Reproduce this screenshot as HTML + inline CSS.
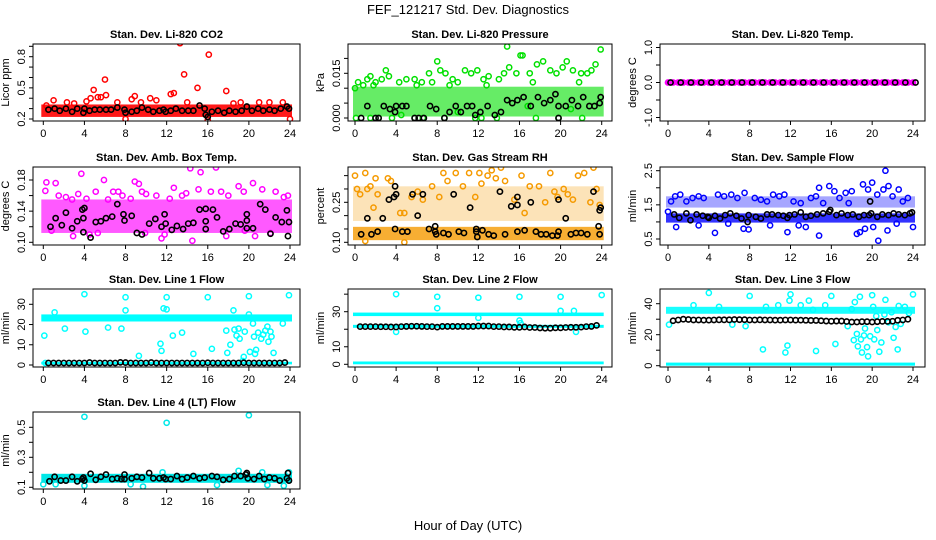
<!DOCTYPE html>
<html><head><meta charset="utf-8"><style>
html,body{margin:0;padding:0;background:#fff;}
svg{display:block;font-family:"Liberation Sans",Arial,sans-serif;}
</style></head><body>
<svg id="chart" width="936" height="540" viewBox="0 0 936 540" xmlns="http://www.w3.org/2000/svg">
<text x="468" y="14" text-anchor="middle" font-size="13">FEF_121217  Std. Dev. Diagnostics</text>
<text x="468" y="530" text-anchor="middle" font-size="13">Hour of Day (UTC)</text>
</svg>
<script>
// ---- data (hours, values) ----
const xTicks = [0,4,8,12,16,20,24];

const co2Band = [0.22,0.34];
const co2Pts = [[1,0.38],[2.3,0.36],[4.2,0.37],[4.6,0.40],[4.9,0.48],[5.3,0.41],[5.6,0.41],[6,0.58],[6.1,0.43],[7.2,0.36],[8,0.20],[8.6,0.39],[8.9,0.42],[10.4,0.40],[11,0.38],[12.4,0.44],[12.7,0.45],[13.3,0.93],[13.7,0.63],[15,0.50],[16.1,0.82],[17.8,0.47],[19.2,0.36],[21,0.36],[23.3,0.36],[24,0.20],[16,0.19],[0.3,0.33],[3,0.35],[9.5,0.36],[14,0.36],[18.5,0.35],[22,0.36]];
const co2Black = [[0.5,0.29],[1.1,0.3],[1.6,0.28],[2.2,0.3],[2.8,0.27],[3.3,0.3],[3.9,0.26],[4,0.3],[4.5,0.28],[5,0.29],[5.5,0.29],[6.1,0.29],[6.6,0.29],[7.2,0.31],[7.9,0.29],[8,0.26],[8.6,0.27],[9.1,0.28],[9.6,0.31],[10.2,0.29],[10.7,0.27],[11.3,0.28],[11.7,0.29],[11.9,0.27],[12.4,0.28],[12.9,0.3],[13.5,0.28],[14.1,0.28],[14.6,0.28],[15.2,0.33],[15.7,0.3],[15.8,0.24],[16,0.22],[16.4,0.27],[17,0.28],[17.6,0.26],[18.1,0.28],[18.7,0.27],[19.3,0.28],[19.8,0.32],[20.3,0.28],[20.9,0.3],[21.4,0.28],[22,0.29],[22.5,0.28],[23.1,0.3],[23.7,0.32],[23.9,0.3]];

const presBand = [0.0005,0.0105];
const presPts = [[0,0.010],[0.3,0.012],[0.8,0.011],[1.2,0.013],[1.5,0.014],[2,0.012],[2.6,0.013],[3,0.016],[3.3,0.014],[4.3,0.012],[5,0.013],[5.8,0.013],[6.5,0.012],[7.2,0.015],[7.5,0.012],[8,0.019],[8.3,0.016],[8.8,0.015],[9.5,0.013],[10,0.012],[10.7,0.016],[11.3,0.015],[11.9,0.016],[12.5,0.013],[13,0.014],[14,0.013],[14.5,0.015],[14.8,0.024],[15,0.017],[15.7,0.015],[16.1,0.021],[16.3,0.021],[17,0.015],[17.7,0.018],[18.3,0.019],[19,0.016],[19.6,0.015],[20.2,0.017],[20.6,0.019],[21.2,0.016],[22,0.015],[22.6,0.015],[23,0.016],[23.4,0.018],[23.9,0.023],[0.1,0],[1.5,0],[2.3,0],[3.6,0],[5.8,0],[6.6,0],[8.7,0],[11.7,0],[12.3,0],[13.8,0],[17.6,0],[19.8,0],[22.1,0],[4.5,0.001],[10,0.002],[16.8,0.004],[21,0.003],[1.8,0.011],[6,0.011],[9.2,0.011],[12.8,0.011],[17.3,0.012],[21.8,0.012]];
const presBlack = [[0.6,0],[1.2,0.004],[2,0],[2.3,0],[2.8,0.004],[3.4,0.003],[3.9,0.002],[4,0.004],[4.6,0.004],[5,0.004],[5.8,0],[6.2,0],[6.7,0],[7.3,0.004],[7.9,0.003],[8.7,0],[9.2,0.002],[9.8,0.004],[10.3,0.002],[10.9,0.004],[11.4,0.004],[11.7,0.001],[12.2,0.002],[12.9,0.004],[13.6,0.001],[14.2,0.002],[14.8,0.006],[15.3,0.005],[15.8,0.006],[16.4,0.007],[17.1,0.004],[17.8,0.007],[18.4,0.005],[19,0.006],[19.5,0.008],[19.8,0],[19.8,0.004],[20.5,0.004],[21.1,0.006],[21.7,0.004],[22.2,0.007],[22.8,0.004],[23.3,0.004],[23.8,0.005],[23.9,0.007]];

const tempVals = [0,0,0,0,0,0,0,0,0,0,0,0,0,0,0,0,0,0,0,0,0,0,0,0,0,0,0,0,0,0,0,0,0,0,0,0,0,0,0,0,0,0,0,0,0,0,0,0,0];

const ambBand = [0.112,0.155];
const ambPts = [[0.2,0.166],[0.3,0.177],[1.2,0.176],[1.5,0.16],[2.2,0.158],[2.8,0.155],[3.4,0.162],[3.7,0.188],[4.2,0.156],[4.5,0.11],[5.1,0.165],[5.9,0.18],[6.3,0.155],[6.8,0.165],[7.3,0.165],[7.7,0.16],[8.5,0.156],[8.9,0.178],[9.3,0.175],[9.6,0.165],[10,0.162],[11,0.16],[11.5,0.105],[12.3,0.156],[12.7,0.17],[13.5,0.16],[13.9,0.163],[14.3,0.195],[14.5,0.102],[15.1,0.168],[15.3,0.19],[16.3,0.165],[16.8,0.196],[17.3,0.165],[18,0.16],[19,0.172],[19.5,0.165],[20.4,0.176],[20.6,0.108],[21.3,0.168],[22.1,0.112],[22.6,0.165],[23.4,0.158],[23.8,0.16],[0.8,0.115],[2.9,0.108],[5.3,0.112],[9.9,0.112],[11.8,0.11],[17.8,0.108],[19.6,0.115]];
const ambBlack = [[0.7,0.12],[1.2,0.131],[1.8,0.122],[2.2,0.138],[2.8,0.118],[3.3,0.127],[3.8,0.142],[3.9,0.131],[4,0.144],[3.9,0.113],[4.6,0.106],[5.1,0.126],[5.6,0.127],[6.1,0.131],[6.7,0.133],[7.2,0.149],[7.8,0.136],[7.9,0.128],[8.6,0.134],[9.1,0.112],[9.6,0.11],[10.3,0.124],[10.9,0.13],[11.5,0.12],[11.8,0.136],[11.9,0.124],[12.5,0.116],[13,0.121],[13.6,0.117],[14.1,0.124],[14.6,0.125],[15.2,0.142],[15.8,0.143],[15.8,0.127],[15.8,0.117],[16.5,0.142],[16.9,0.132],[17.5,0.114],[18.1,0.117],[18.7,0.124],[19.2,0.123],[19.8,0.136],[19.8,0.128],[19.8,0.118],[20.4,0.118],[21.1,0.149],[21.6,0.142],[22.1,0.111],[22.6,0.132],[23.2,0.126],[23.7,0.141],[23.8,0.108],[23.9,0.126]];

const rhBand = [0.108,0.158];
const rhUpperBand = [0.18,0.31];
const rhPts = [[0,0.35],[0.2,0.30],[0.5,0.28],[1,0.36],[1.2,0.30],[1.5,0.31],[1.8,0.23],[2,0.34],[2.2,0.28],[3.2,0.34],[3.5,0.33],[4.4,0.21],[4.8,0.21],[5.5,0.27],[6.1,0.29],[6.6,0.26],[7.5,0.31],[8.2,0.27],[8.6,0.36],[9,0.33],[9.8,0.36],[10.5,0.31],[11.1,0.36],[11.7,0.27],[12.1,0.36],[12.3,0.32],[12.9,0.35],[13.3,0.37],[13.7,0.34],[14.2,0.38],[14.6,0.33],[15.5,0.26],[16.2,0.35],[16.5,0.21],[17,0.31],[17.9,0.31],[18.5,0.25],[19,0.36],[19.4,0.29],[19.7,0.27],[20.3,0.30],[20.7,0.28],[21.2,0.26],[21.7,0.35],[22.3,0.36],[22.9,0.25],[23.2,0.38],[23.5,0.30],[23.8,0.24],[4.8,0.10],[1,0.105]];
const rhBlack = [[0.6,0.13],[1.2,0.19],[1.6,0.13],[2.2,0.14],[2.7,0.19],[3.3,0.26],[3.8,0.27],[3.9,0.31],[3.9,0.15],[4,0.28],[4.6,0.14],[5.1,0.14],[5.6,0.28],[6.1,0.2],[6.6,0.28],[7.2,0.15],[7.8,0.16],[7.8,0.14],[7.9,0.13],[8.6,0.135],[9.1,0.13],[9.6,0.28],[10.1,0.14],[10.6,0.135],[11.2,0.23],[11.8,0.15],[11.8,0.14],[11.9,0.12],[12.4,0.145],[13,0.13],[13.5,0.125],[14.1,0.29],[14.6,0.13],[15.2,0.235],[15.8,0.14],[15.8,0.24],[15.8,0.27],[16.5,0.145],[17.1,0.25],[17.6,0.14],[18.1,0.13],[18.6,0.13],[19.2,0.125],[19.7,0.125],[19.8,0.14],[19.8,0.26],[20.5,0.19],[21,0.13],[21.5,0.135],[22,0.135],[22.6,0.13],[23.2,0.29],[23.7,0.16],[23.8,0.13],[23.8,0.22],[23.9,0.23]];

const sfBand = [0.98,1.25];
const sfUpperBand = [1.42,1.75];
const sfPts = [[0.3,1.6],[0.7,1.75],[1.2,1.8],[1.8,1.6],[2.4,1.7],[3,1.75],[3.5,1.7],[4.6,0.68],[4.9,1.8],[5.5,1.75],[6.2,1.8],[6.8,1.7],[7.5,1.85],[7.4,0.8],[7.9,0.78],[8.5,1.7],[9.1,1.65],[9.7,1.6],[10.3,1.8],[10.9,1.75],[11.4,1.8],[11.7,0.7],[12.3,1.6],[13,1.55],[13.5,0.85],[14,1.7],[14.5,1.75],[14.8,2.0],[15.2,1.55],[14.8,0.6],[15.8,2.05],[16.3,1.9],[16.8,1.7],[17.4,1.85],[18,1.9],[18.5,0.65],[18.8,0.7],[19.1,2.1],[19.3,0.8],[19.6,1.95],[20,2.15],[20.1,0.85],[20.5,1.8],[20.6,0.45],[21.1,1.95],[21.3,2.5],[21.5,0.75],[21.6,2.05],[22,1.75],[22.6,1.95],[23,1.6],[23.5,1.7],[24,0.85],[22.4,0.95],[0,1.3],[17.7,1.55],[12.8,0.9],[10,0.9],[5.9,0.95],[3,0.9],[0.8,0.85]];
const sfBlack = [[0.6,1.22],[1.1,1.12],[1.8,1.25],[2.2,1.05],[2.8,1.22],[3.4,1.18],[3.9,1.15],[4,1.12],[4.6,1.18],[5.1,1.1],[5.6,1.2],[6.1,1.25],[6.7,1.18],[7.2,1.1],[7.8,1.0],[7.9,1.2],[8.6,1.15],[9.1,1.1],[9.7,1.22],[10.2,1.22],[10.8,1.2],[11.3,1.18],[11.7,1.12],[11.9,1.2],[12.4,1.22],[13,1.28],[13.5,1.15],[14,1.18],[14.6,1.22],[15.2,1.25],[15.8,1.3],[15.9,1.35],[16.5,1.2],[17,1.25],[17.6,1.2],[18.1,1.22],[18.7,1.15],[19.2,1.2],[19.7,1.2],[19.8,1.6],[19.9,1.25],[20.5,1.15],[21,1.22],[21.6,1.2],[22.1,1.25],[22.6,1.22],[23.2,1.2],[23.7,1.25],[23.9,1.28]];

const l1Band = [21.5,25];
const l1LowBand = [0.3,1.6];
const l1Pts = [[0.1,14.5],[0.2,1],[1.1,26],[2.1,18],[4,35],[4.1,16.5],[6.3,18.5],[7.6,18],[8,33.5],[8,27],[9.3,4.5],[11.4,10.5],[11.5,7],[11.7,28],[12,33.5],[12,27.5],[12.6,14.5],[13.5,16],[14.6,5.5],[16,33.5],[16.4,8],[17.8,17],[17.9,6],[18.2,10],[18.5,27],[18.6,17.5],[18.8,14.5],[19,18],[19.1,13],[19.4,2],[19.5,4],[19.6,16.5],[20,34],[20,25],[20.1,6.5],[20.4,20.5],[20.5,14],[20.6,5.5],[20.7,7.5],[20.9,16],[21.2,13],[21.4,15],[21.6,17],[21.8,19],[21.9,11.5],[22.1,16.5],[22.2,14],[22.4,6],[23.3,20.5],[23.9,34.5]];
const l1BlackVals = [1,1,1,1,1,1,1,1,1.2,1,1,1,1,1,1.3,1.2,1,1,1,1,1.2,1,1,1,1,1,1,1,1,1,1,1.1,1,1,1,1,1,1,1.1,1,1,1,1,1,1,1,1.2];

const l2Band = [27.5,29.5];
const l2MidBand = [20.8,22.5];
const l2LowBand = [0,1.6];
const l2Pts = [[4,40],[4,18.5],[8,38.5],[8,32],[12,38],[12,26.5],[16,38.5],[16,25],[16.1,23.5],[20,38.5],[20,30.5],[21.3,30.5],[21.5,18.5],[24,39.5]];
const l2BlackVals = [21.5,21.5,21.5,21.5,21.4,21.4,21.3,21.3,21.5,21.6,21.7,21.7,21.6,21.5,21.5,21.2,21.6,21.6,21.6,21.6,21.6,21.6,21.6,21.8,21.8,21.8,21.5,21.5,21.3,21.3,21.1,21.1,21.3,21,21,20.7,20.6,20.6,20.8,20.8,21,21.1,21.1,21.2,21.5,21.6,22.2];

const l3Band = [33.5,38];
const l3LowBand = [0,2];
const l3Pts = [[0.1,26.5],[4,47],[6.3,26.5],[7.6,25.5],[8,45],[9.3,10.5],[11.5,8.5],[11.7,13],[11.9,42],[12,46],[13.8,42],[14.5,9.5],[15.4,39],[16,45],[16.4,14],[17.6,25.5],[18,36.5],[18.2,16.5],[18.3,41],[18.5,20.5],[18.6,12.5],[18.8,44.5],[18.9,17],[19,8.5],[19.2,19.5],[19.3,24],[19.5,12],[19.6,6],[19.8,19],[20,45.5],[20.1,38],[20.2,17],[20.4,32],[20.5,23],[20.7,9],[20.9,15],[21.2,33],[21.3,42.5],[21.6,28],[21.9,34.5],[22.1,18],[22.3,25],[22.5,10.5],[22.6,38.5],[22.8,27],[23.2,38],[23.6,34],[24,46],[2.5,39],[5,38],[9.6,38],[10.8,39],[13,39],[14.2,36]];
const l3BlackVals = [29,29.5,30,29.8,29.5,29.5,29.4,29.4,29.5,29.6,29.6,29.6,29.8,29.7,29.7,29.5,29.5,29.6,29.5,29.5,29.4,29.4,29.5,29.5,29.4,29.4,29.3,29.2,29.2,29,28.8,28.7,28.8,28.8,28.5,28.2,28.2,28.4,28.4,28.2,28.4,28.6,28.6,28.7,29.3,29.5,30];

const l4Band = [0.13,0.19];
const l4Pts = [[4,0.57],[12,0.53],[20,0.58],[19,0.21],[0,0.12],[1.2,0.12],[4,0.11],[8.5,0.12],[9.7,0.105],[16.9,0.115],[21.8,0.115],[23.4,0.11],[11.6,0.2],[21.3,0.2],[23.9,0.2]];
const l4Black = [[0.6,0.14],[1.1,0.17],[1.7,0.145],[2.2,0.145],[2.8,0.17],[3.3,0.14],[3.8,0.155],[3.9,0.165],[4,0.145],[4.6,0.19],[5.1,0.15],[5.6,0.17],[6.1,0.185],[6.7,0.155],[7.2,0.16],[7.6,0.155],[7.9,0.185],[7.9,0.155],[8.6,0.16],[9.1,0.17],[9.6,0.165],[10.3,0.195],[10.7,0.16],[11.3,0.16],[11.7,0.165],[11.9,0.155],[12.4,0.155],[13,0.175],[13.5,0.155],[14,0.165],[14.6,0.175],[15.2,0.16],[15.7,0.165],[16.4,0.175],[16.9,0.17],[17.5,0.15],[18.1,0.155],[18.6,0.175],[19.2,0.175],[19.7,0.185],[19.8,0.195],[19.9,0.16],[20.5,0.155],[21,0.175],[21.5,0.155],[22,0.165],[22.5,0.16],[23,0.145],[23.7,0.16],[23.8,0.195],[23.9,0.145]];

// ---- layout ----
const svg = document.getElementById('chart');
const NS = 'http://www.w3.org/2000/svg';
const cols = [{l:33,r:300,x0:43.3,x24:290},{l:348,r:612,x0:355,x24:601.7},{l:660,r:925,x0:668,x24:913}];
const rows = [{t:44,b:121},{t:167,b:245},{t:289,b:367},{t:412,b:489}];

function mk(tag, attrs, parent){
  const e = document.createElementNS(NS, tag);
  for (const k in attrs) e.setAttribute(k, attrs[k]);
  (parent||svg).appendChild(e);
  return e;
}

function panel(o){
  const c = cols[o.col], r = rows[o.row];
  const g = mk('g', {});
  
  
  const xs = h => c.x0 + (c.x24 - c.x0) * h / 24;
  const ys = v => o.p0 + (v - o.v0) * (o.p1 - o.p0) / (o.v1 - o.v0);
  const t = mk('text', {x:(c.l+c.r)/2, y:r.t-6, 'text-anchor':'middle', 'font-size':11, 'font-weight':'bold'}, g);
  t.textContent = o.title;
  
  
  const yt = mk('text', {x:0, y:0, 'text-anchor':'middle', 'font-size':11, transform:`translate(${c.l-24},${(r.t+r.b)/2}) rotate(-90)`}, g);
  yt.textContent = o.ylab;
  
  
  const cid = 'clip-' + o.name;
  const cp = mk('clipPath', {id:cid}, g);
  mk('rect', {x:c.l, y:r.t, width:c.r-c.l, height:r.b-r.t}, cp);
  const pg = mk('g', {'clip-path':`url(#${cid})`}, g);
  
  
  (o.bands||[]).forEach(b => {
    const rc = mk('rect', {x:xs(0)-2, y:ys(b.v[1]), width:xs(24)-xs(0)+4, height:ys(b.v[0])-ys(b.v[1]), fill:b.color||o.color, opacity:b.op||1}, pg);
    
    
  });
  (o.pts||[]).forEach(p => {
    const ci = mk('circle', {cx:xs(p[0]), cy:ys(p[1]), r:2.6, fill:'none', stroke:o.color, 'stroke-width':1.5}, pg);
    
    
  });
  (o.black||[]).forEach(p => {
    const ci = mk('circle', {cx:xs(p[0]), cy:ys(p[1]), r:2.6, fill:'none', stroke:'#000', 'stroke-width':1.6}, pg);
    
    
  });
  const bx = mk('rect', {x:c.l, y:r.t, width:c.r-c.l, height:r.b-r.t, fill:'none', stroke:'#000', 'stroke-width':1}, g);
  
  
  const ax = mk('g', {}, g);
  
  
  xTicks.forEach(h => {
    mk('line', {x1:xs(h), x2:xs(h), y1:r.b, y2:r.b+4, stroke:'#000'}, ax);
    const tl = mk('text', {x:xs(h), y:r.b+16, 'text-anchor':'middle', 'font-size':11}, ax);
    tl.textContent = h;
    
    
  });
  const ay = mk('g', {}, g);
  
  
  o.yticks.forEach(v => {
    mk('line', {x1:c.l-4, x2:c.l, y1:ys(v), y2:ys(v), stroke:'#000'}, ay);
  });
  o.ylabels.forEach(s => {
    const tl = mk('text', {x:0, y:0, 'text-anchor':'middle', 'font-size':11, transform:`translate(${c.l-8},${ys(parseFloat(s))}) rotate(-90)`}, ay);
    tl.textContent = s;
    
    
  });
  return {xs, ys};
}

function idxSeries(vals, start, step){ return vals.map((v,i)=>[start+i*step, v]); }

panel({name:'co2', col:0,row:0,title:'Stan. Dev. Li-820 CO2', ylab:'Licor ppm', color:'#ff0000', v0:0.2,p0:119,v1:0.8,p1:56.7, yticks:[0.2,0.3,0.4,0.5,0.6,0.7,0.8,0.9], ylabels:['0.2','0.5','0.8'], bands:[{v:co2Band, op:0.9}], pts:co2Pts, black:co2Black});
panel({name:'pressure', col:1,row:0,title:'Stan. Dev. Li-820 Pressure', ylab:'kPa', color:'#00e000', v0:0,p0:118,v1:0.015,p1:73.3, yticks:[0,0.005,0.01,0.015,0.02], ylabels:['0.000','0.015'], bands:[{v:presBand, op:0.6}], pts:presPts, black:presBlack});
panel({name:'temp', col:2,row:0,title:'Stan. Dev. Li-820 Temp.', ylab:'degrees C', color:'#ff00ff', v0:0,p0:82.5,v1:1,p1:47.5, yticks:[-1,-0.5,0,0.5,1], ylabels:['-1.0','0.0','1.0'], bands:[{v:[-0.07,0.07]}], pts:idxSeries(tempVals,0,0.5), black:idxSeries(tempVals,0.25,0.5).filter((p,i)=>i%2===0)});
panel({name:'amb-temp', col:0,row:1,title:'Stan. Dev. Amb. Box Temp.', ylab:'degrees C', color:'#ff00ff', v0:0.10,p0:242.3,v1:0.18,p1:180, yticks:[0.10,0.12,0.14,0.16,0.18], ylabels:['0.10','0.14','0.18'], bands:[{v:ambBand, op:0.65}], pts:ambPts, black:ambBlack});
panel({name:'rh', col:1,row:1,title:'Stan. Dev. Gas Stream RH', ylab:'percent', color:'#f59a00', v0:0.10,p0:242.3,v1:0.25,p1:202.3, yticks:[0.10,0.15,0.20,0.25,0.30,0.35], ylabels:['0.10','0.25'], bands:[{v:rhBand, op:0.8},{v:rhUpperBand, op:0.28}], pts:rhPts, black:rhBlack});
panel({name:'sample-flow', col:2,row:1,title:'Stan. Dev. Sample Flow', ylab:'ml/min', color:'#0000ff', v0:0.5,p0:239,v1:2.5,p1:170.7, yticks:[0.5,1,1.5,2,2.5], ylabels:['0.5','1.5','2.5'], bands:[{v:sfBand, op:0.8},{v:sfUpperBand, op:0.35}], pts:sfPts, black:sfBlack});
panel({name:'line1-flow', col:0,row:2,title:'Stan. Dev. Line 1 Flow', ylab:'ml/min', color:'#00ffff', v0:0,p0:365,v1:30,p1:304.3, yticks:[0,10,20,30], ylabels:['0','10','20','30'], bands:[{v:l1Band},{v:l1LowBand}], pts:l1Pts, black:idxSeries(l1BlackVals,0.5,0.5)});
panel({name:'line2-flow', col:1,row:2,title:'Stan. Dev. Line 2 Flow', ylab:'ml/min', color:'#00ffff', v0:0,p0:364.3,v1:30,p1:311.7, yticks:[0,10,20,30,40], ylabels:['0','10','30'], bands:[{v:l2Band},{v:l2MidBand},{v:l2LowBand}], pts:l2Pts, black:idxSeries(l2BlackVals,0.5,0.5)});
panel({name:'line3-flow', col:2,row:2,title:'Stan. Dev. Line 3 Flow', ylab:'ml/min', color:'#00ffff', v0:0,p0:365.7,v1:40,p1:303.7, yticks:[0,10,20,30,40], ylabels:['0','20','40'], bands:[{v:l3Band, op:0.9},{v:l3LowBand}], pts:l3Pts, black:idxSeries(l3BlackVals,0.5,0.5)});
panel({name:'line4-flow', col:0,row:3,title:'Stan. Dev. Line 4 (LT) Flow', ylab:'ml/min', color:'#00e8e8', v0:0.1,p0:487.3,v1:0.5,p1:427.3, yticks:[0.1,0.2,0.3,0.4,0.5], ylabels:['0.1','0.3','0.5'], bands:[{v:l4Band}], pts:l4Pts, black:l4Black});
</script>
</body></html>
